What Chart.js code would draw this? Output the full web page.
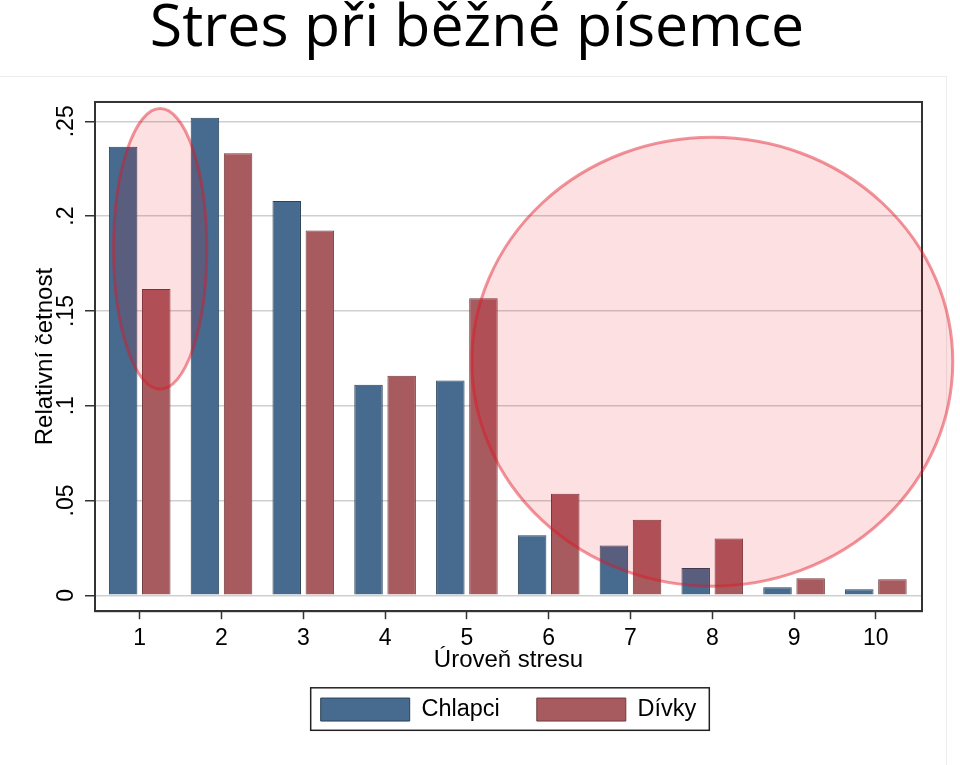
<!DOCTYPE html>
<html>
<head>
<meta charset="utf-8">
<title>Stres při běžné písemce</title>
<script src="https://cdn.jsdelivr.net/npm/chart.js@4.4.0/dist/chart.umd.min.js"></script>
<style>
  html, body { margin: 0; padding: 0; background: #fff; }
  #wrap { position: relative; width: 960px; height: 765px; overflow: hidden; }
  #frame { position: absolute; left: -1px; top: 76px; width: 947px; height: 700px;
           border-top: 1px solid #ececec; border-right: 1px solid #ececec; }
  canvas { position: absolute; left: 0; top: 0; }
</style>
</head>
<body>
<div id="wrap">
  <div id="frame"></div>
  <canvas id="stressChart" width="960" height="765"></canvas>
</div>
<script>
// data
const stressLevels = [1, 2, 3, 4, 5, 6, 7, 8, 9, 10];
const boysShare  = [0.2366, 0.2519, 0.2080, 0.1110, 0.1133, 0.0316, 0.0262, 0.0144, 0.0042, 0.0032];
const girlsShare = [0.1615, 0.2331, 0.1924, 0.1158, 0.1567, 0.0536, 0.0399, 0.0299, 0.0090, 0.0084];
const yTickValues = [0, 0.05, 0.1, 0.15, 0.2, 0.25];

// highlighted areas (ellipses), in axis units
const highlightX  = [1.25, 8.0];
const highlightY  = [0.1827, 0.1232];
const highlightRx = [0.57, 2.94];
const highlightRy = [0.074, 0.1184];

Chart.defaults.font.family = "'Liberation Sans', Arial, sans-serif";
Chart.defaults.color = '#000';

// plot region outline (Stata style box)
const plotFrame = {
  id: 'plotFrame',
  afterDatasetsDraw(chart) {
    const { ctx, chartArea: a } = chart;
    ctx.save();
    ctx.strokeStyle = '#333';
    ctx.lineWidth = 2;
    ctx.strokeRect(a.left, a.top, a.right - a.left, a.bottom - a.top);
    ctx.restore();
  }
};

const highlights = {
  id: 'highlights',
  afterDatasetsDraw(chart) {
    const { ctx } = chart;
    const xs = chart.scales.x, ys = chart.scales.y;
    ctx.save();
    highlightX.forEach((cx, i) => {
      const px = xs.getPixelForValue(cx);
      const py = ys.getPixelForValue(highlightY[i]);
      const rx = Math.abs(xs.getPixelForValue(cx + highlightRx[i]) - px);
      const ry = Math.abs(ys.getPixelForValue(highlightY[i] + highlightRy[i]) - py);
      ctx.beginPath();
      ctx.ellipse(px, py, rx, ry, 0, 0, Math.PI * 2);
      ctx.fillStyle = 'rgba(238, 0, 20, 0.12)';
      ctx.fill();
      ctx.lineWidth = 3;
      ctx.strokeStyle = 'rgba(225, 20, 35, 0.45)';
      ctx.stroke();
    });
    ctx.restore();
  }
};

// box round the legend
const legendBox = {
  id: 'legendBox',
  afterDraw(chart) {
    const hb = chart.legend && chart.legend.legendHitBoxes;
    if (!hb || !hb.length) return;
    const first = hb[0], last = hb[hb.length - 1];
    const left = first.left - 10;
    const right = last.left + last.width + 13;
    const top = first.top - 10;
    const bottom = first.top + first.height + 9;
    const ctx = chart.ctx;
    ctx.save();
    ctx.strokeStyle = '#222';
    ctx.lineWidth = 1.5;
    ctx.strokeRect(left, top, right - left, bottom - top);
    ctx.restore();
  }
};

new Chart(document.getElementById('stressChart'), {
  type: 'bar',
  data: {
    labels: stressLevels,
    datasets: [{
      label: 'Chlapci',
      data: boysShare,
      backgroundColor: '#466b8e',
      borderColor: '#2c4258',
      borderWidth: 1
    }, {
      label: 'Dívky',
      data: girlsShare,
      backgroundColor: '#a85b5f',
      borderColor: '#713a3e',
      borderWidth: 1
    }]
  },
  options: {
    responsive: false,
    animation: false,
    categoryPercentage: 0.81,
    barPercentage: 0.86,
    layout: { padding: { top: 0, left: 16, right: 22, bottom: 33.7 } },
    scales: {
      x: {
        type: 'linear',
        offset: false,
        min: 0.4535,
        max: 10.564,
        afterFit: (scale) => { scale.height = 49.6; },
        afterBuildTicks: (scale) => { scale.ticks = stressLevels.map(v => ({ value: v })); },
        border: { display: true, color: '#333', width: 2 },
        grid: { offset: false, drawOnChartArea: false, drawTicks: true, tickLength: 8, tickColor: '#333', tickWidth: 1.5 },
        ticks: { padding: 5.2, font: { size: 23 }, color: '#000' },
        title: { display: true, text: 'Úroveň stresu', font: { size: 24 }, color: '#000',
                 padding: { top: 0, bottom: -14.1 } }
      },
      y: {
        min: -0.0084,
        max: 0.2602,
        afterFit: (scale) => { scale.width = 79; },
        afterBuildTicks: (scale) => { scale.ticks = yTickValues.map(v => ({ value: v })); },
        border: { display: true, color: '#333', width: 2 },
        grid: { color: '#cfcfcf', lineWidth: 1.5, drawTicks: true, tickLength: 10, tickColor: '#333', tickWidth: 1.5 },
        ticks: {
          minRotation: 90,
          maxRotation: 90,
          crossAlign: 'center',
          padding: 2,
          font: { size: 23 },
          color: '#000',
          callback: (v) => v === 0 ? '0' : v.toFixed(2).replace(/0+$/, '').replace(/^0/, '')
        },
        title: { display: true, text: 'Relativní četnost', font: { size: 24 }, color: '#000',
                 padding: { top: 14.6, bottom: 0 } }
      },
      // empty right margin box so the title stays centred like the original slide
      yRight: {
        position: 'right',
        display: true,
        afterFit: (scale) => { scale.width = 16; },
        grid: { display: false },
        border: { display: false },
        ticks: { display: false }
      }
    },
    plugins: {
      title: {
        display: true,
        text: 'Stres při běžné písemce',
        color: '#000',
        font: { family: "'Open Sans', sans-serif", size: 59, weight: 'normal', lineHeight: 1.003 },
        padding: { top: 0, bottom: 42.8 }
      },
      legend: {
        position: 'bottom',
        fullSize: false,
        labels: {
          boxWidth: 89,
          boxHeight: 23,
          padding: 37,
          color: '#000',
          font: { size: 23.5 }
        }
      },
      tooltip: { enabled: false }
    }
  },
  plugins: [plotFrame, highlights, legendBox]
});
</script>
</body>
</html>
